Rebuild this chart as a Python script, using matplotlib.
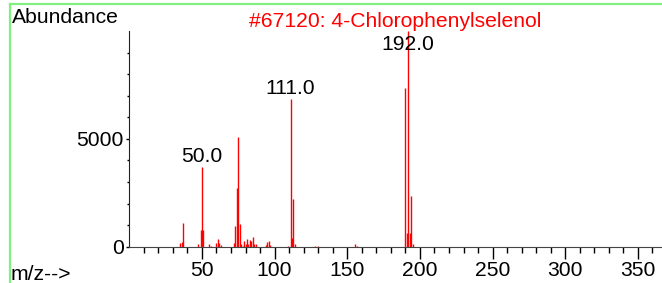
import matplotlib.pyplot as plt
from matplotlib.lines import Line2D
import numpy as np

# peak table (m/z, abundance)
mz = [35, 36, 37, 47, 49, 50, 51, 55, 56, 60, 61, 62, 63,
      72, 73, 74, 75, 76, 77, 78, 79, 80, 81, 82, 83, 84, 85, 86, 87,
      94, 95, 96, 97, 109, 111, 112, 113, 114, 128, 130, 155, 157,
      190, 191, 192, 193, 194, 195]
abundance = [185, 230, 1110, 120, 790, 3720, 790, 150, 60, 185, 380, 190, 90,
             185, 950, 2740, 5110, 1050, 120, 60, 260, 150, 355, 120, 310, 280, 460, 120, 120,
             80, 200, 290, 80, 60, 6840, 430, 2230, 120, 40, 40, 110, 60,
             7380, 650, 9999, 620, 2350, 120]
labelled = [50, 111, 192]

title = "#67120: 4-Chlorophenylselenol"

plt.rcParams['font.family'] = ['Liberation Sans', 'DejaVu Sans']
fs = 15.2

fig = plt.figure(figsize=(6.62, 2.83), dpi=100)
W, H = 662, 283
ax = fig.add_axes([129.3 / W, 1 - 246.8 / H, 1 - 129.3 / W, (246.8 - 31) / H])

ax.vlines(mz, 0, abundance, color='red', lw=1.0)

ax.set_xlim(0, 366.6)
ax.set_ylim(0, 10000)
ax.set_xticks(np.arange(50, 351, 50))
ax.set_xticks(np.arange(10, 361, 10), minor=True)
ax.set_yticks([0, 5000])
ax.set_yticks(np.arange(1000, 10000, 1000), minor=True)

ax.tick_params(axis='x', which='major', length=8.4, width=1, pad=2, labelsize=fs)
ax.tick_params(axis='x', which='minor', length=4.3, width=1)
ax.tick_params(axis='y', which='major', length=2, width=1, pad=2, labelsize=fs)
ax.tick_params(axis='y', which='minor', length=1.2, width=1)

for s in ['top', 'right']:
    ax.spines[s].set_visible(False)
ax.spines['bottom'].set_color('#444444')
ax.spines['left'].set_color('#222222')

# peak labels, kept below the title line
px_per_unit = (246.8 - 31) / 10000
for m in labelled:
    h = abundance[mz.index(m)]
    y = min(h + 5 / px_per_unit, (246.8 - 50) / px_per_unit)
    ax.text(m, y, f"{m:.1f}", ha='center', va='baseline', fontsize=fs, color='black')

fig.text(12 / W, 1 - 23.3 / H, "Abundance", fontsize=fs, ha='left', va='baseline')
fig.text(395.5 / W, 1 - 26.7 / H, title, fontsize=fs, ha='center', va='baseline', color='red')
fig.text(11 / W, 1 - 280.5 / H, "m/z-->", fontsize=fs, ha='left', va='baseline')

# light green frame on top and left
green = '#80f080'
fig.add_artist(Line2D([10 / W, 1], [1 - 4 / H, 1 - 4 / H], color=green, lw=1.6, transform=fig.transFigure))
fig.add_artist(Line2D([10 / W, 10 / W], [0, 1 - 4 / H], color=green, lw=1.6, transform=fig.transFigure))

fig.savefig("out.png", dpi=100)
